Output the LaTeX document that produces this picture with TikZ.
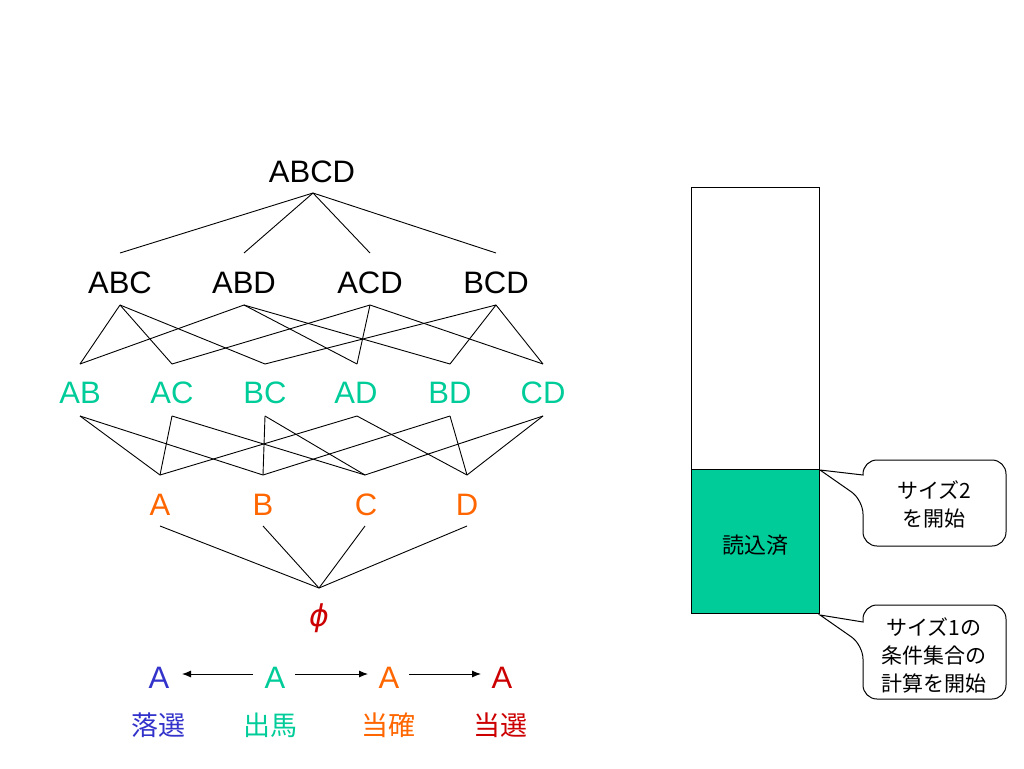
\documentclass[tikz,border=0pt]{standalone}
\usepackage{fontspec}
\setmainfont{Liberation Sans}
\newfontfamily\jp{Noto Sans CJK JP}
\newfontfamily\dejavu{DejaVu Sans}
\usetikzlibrary{arrows.meta}
\definecolor{teal2}{RGB}{0,204,153}
\definecolor{orng}{RGB}{255,102,0}
\definecolor{red2}{RGB}{204,0,0}
\definecolor{blue2}{RGB}{51,51,204}
\begin{document}
\begin{tikzpicture}[x=1pt,y=-1pt,
  lbl/.style={inner sep=0pt,font=\fontsize{31}{36}\selectfont},
  jlbl/.style={inner sep=0pt,font=\jp\fontsize{27}{32}\selectfont},
  edge/.style={line width=0.9pt,black},
  arr/.style={line width=0.9pt,-{Latex[length=9pt,width=7pt]}},
  boxline/.style={line width=1pt,black},
  ctext/.style={inner sep=0pt,align=center,font=\jp\fontsize{21}{28}\selectfont}]
\useasboundingbox (0,0) rectangle (1024,768);
% ---- level labels
\node[lbl] (ABCD) at (312,172) {ABCD};
\node[lbl] (ABC) at (120,283) {ABC};
\node[lbl] (ABD) at (244,283) {ABD};
\node[lbl] (ACD) at (370,283) {ACD};
\node[lbl] (BCD) at (496,283) {BCD};
\foreach \n/\x in {AB/80,AC/172,BC/265,AD/356,BD/450,CD/543}
  \node[lbl,text=teal2] (\n) at (\x,393) {\n};
\foreach \n/\x in {A/160,B/263,C/366,D/467}
  \node[lbl,text=orng] (\n) at (\x,505) {\n};
\node[inner sep=0pt,text=red2,font=\dejavu\itshape\fontsize{30}{34}\selectfont] (phi) at (319,618) {ϕ};
% ---- anchor coordinates
\coordinate (ABCDb) at (313,193);
\foreach \n/\x in {ABC/120,ABD/244,ACD/370,BCD/496}{
  \coordinate (\n t) at (\x,253);
  \coordinate (\n b) at (\x,305);}
\foreach \n/\x in {AB/80,AC/172,BC/265,AD/357,BD/450,CD/543}{
  \coordinate (\n t) at (\x,364);
  \coordinate (\n b) at (\x,416);}
\foreach \n/\x in {A/160,B/263,C/365,D/467}{
  \coordinate (\n t) at (\x,475);
  \coordinate (\n b) at (\x,526);}
\coordinate (phit) at (319,588);
% ---- edges
\foreach \n in {ABC,ABD,ACD,BCD} \draw[edge] (ABCDb) -- (\n t);
\foreach \a/\b in {ABC/AB,ABC/AC,ABC/BC,ABD/AB,ABD/AD,ABD/BD,ACD/AC,ACD/AD,ACD/CD,BCD/BC,BCD/BD,BCD/CD}
  \draw[edge] (\a b) -- (\b t);
\foreach \a/\b in {AB/A,AB/B,AC/A,AC/C,BC/B,BC/C,AD/A,AD/D,BD/B,BD/D,CD/C,CD/D}
  \draw[edge] (\a b) -- (\b t);
\foreach \n in {A,B,C,D} \draw[edge] (\n b) -- (phit);
% ---- bottom row
\node[lbl,text=blue2] (s1) at (159,678) {A};
\node[lbl,text=teal2] (s2) at (275,678) {A};
\node[lbl,text=orng] (s3) at (389,678) {A};
\node[lbl,text=red2] (s4) at (502,678) {A};
\coordinate (a1e) at (182,674);
\coordinate (a2s) at (253,674);
\coordinate (a2e) at (295,674);
\coordinate (a3s) at (368,674);
\coordinate (a3e) at (409,674);
\coordinate (a4s) at (481,674);
\draw[arr] (a2s) -- (a1e);
\draw[arr] (a2e) -- (a3s);
\draw[arr] (a3e) -- (a4s);
\node[jlbl,text=blue2] (j1) at (158,725) {落選};
\node[jlbl,text=teal2] (j2) at (270,725) {出馬};
\node[jlbl,text=orng] (j3) at (388,725) {当確};
\node[jlbl,text=red2] (j4) at (500,725) {当選};
% ---- right bar
\draw[boxline] (691,187) rectangle (819,469);
\draw[boxline,fill=teal2] (691,469) rectangle (819,613);
\node[ctext,font=\jp\fontsize{22}{26}\selectfont] (read) at (755,545) {読込済};
% ---- callouts
\draw[boxline] (934,546) [rounded corners=14pt] -- (863,546) -- (863,500) [sharp corners] -- (820,470) -- (863,475) [rounded corners=14pt] -- (863,460) -- (1006,460) -- (1006,546) -- cycle;
\node[ctext] (c1) at (934,504) {サイズ2\\を開始};
\draw[boxline] (934,699) [rounded corners=14pt] -- (863,699) -- (863,645) [sharp corners] -- (820,615) -- (863,622) [rounded corners=14pt] -- (863,605) -- (1006,605) -- (1006,699) -- cycle;
\node[ctext] (c2) at (934,655) {サイズ1の\\条件集合の\\計算を開始};
\end{tikzpicture}
\end{document}
